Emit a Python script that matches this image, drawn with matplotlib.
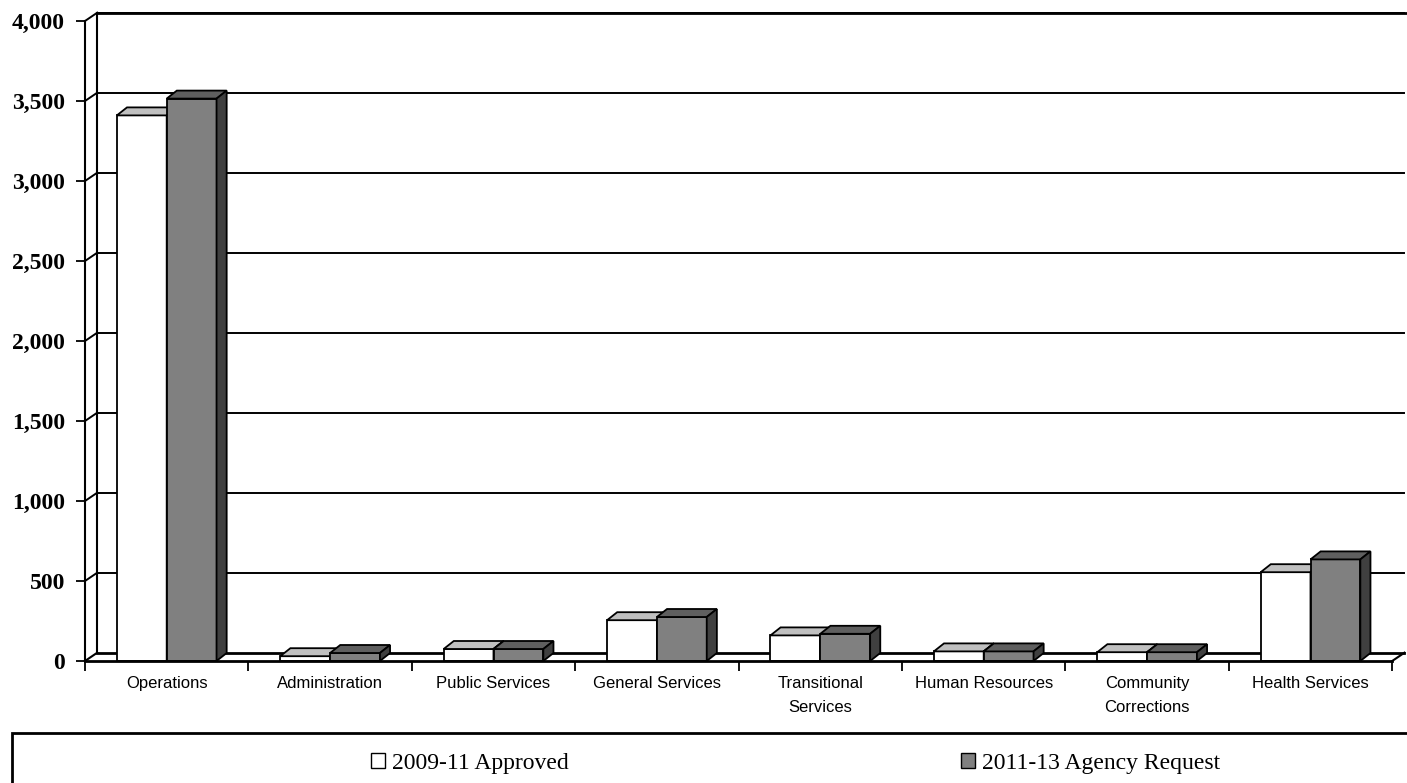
import matplotlib
matplotlib.use("Agg")
import matplotlib.pyplot as plt
from matplotlib.patches import Polygon, Rectangle, Patch

categories = ["Operations", "Administration", "Public Services", "General Services",
              "Transitional\nServices", "Human Resources", "Community\nCorrections",
              "Health Services"]
approved_0911 = [3410, 30, 75, 255, 160, 60, 55, 555]
request_1113 = [3515, 50, 75, 275, 170, 60, 55, 635]
series_names = ["2009-11 Approved", "2011-13 Agency Request"]
y_ticks = list(range(0, 4001, 500))

# face colours: front, top, side
face_colors = [("#ffffff", "#c0c0c0", "#a0a0a0"),
               ("#808080", "#5f5f5f", "#404040")]

BAR_W = 0.305       # width of one bar, in category units
BAR_DX = 0.062      # bar depth, horizontal (category units)
BAR_DY = 50         # bar depth, vertical (value units)
WALL_DX = 0.075     # depth of the floor / walls
WALL_DY = 52

fig = plt.figure(figsize=(14.07, 7.83), dpi=100)
ax = fig.add_axes([85 / 1407, 122 / 783, 1322 / 1407, 650 / 783])
n = len(categories)
ax.set_xlim(0, 1322 / 163.4)
ax.set_ylim(0, 650 / 0.16)

# back wall, left wall and floor
lw_grid = 1.4
for v in y_ticks[1:]:
    ax.plot([WALL_DX, n + WALL_DX], [v + WALL_DY, v + WALL_DY], color="black",
            lw=lw_grid, clip_on=False, zorder=1)
    ax.plot([0, WALL_DX], [v, v + WALL_DY], color="black", lw=lw_grid,
            clip_on=False, zorder=1)
top = y_ticks[-1] + WALL_DY
ax.plot([WALL_DX, n + WALL_DX + 0.2], [top, top], color="black", lw=2,
        clip_on=False, zorder=1)
ax.plot([WALL_DX, WALL_DX], [WALL_DY, top], color="black", lw=1.5,
        clip_on=False, zorder=1)
ax.plot([WALL_DX, n + WALL_DX], [WALL_DY, WALL_DY], color="black", lw=2,
        clip_on=False, zorder=1)
ax.plot([0, WALL_DX], [0, WALL_DY], color="black", lw=1.5, clip_on=False, zorder=1)
ax.plot([n, n + WALL_DX], [0, WALL_DY], color="black", lw=1.5, clip_on=False, zorder=1)

# 3-D style columns: front face from ax.bar, then top and side faces
centers = [i + 0.5 for i in range(n)]
for s, values in enumerate([approved_0911, request_1113]):
    front, top_c, side_c = face_colors[s]
    lefts = [c - BAR_W + s * BAR_W for c in centers]
    ax.bar(lefts, values, width=BAR_W, align="edge", color=front,
           edgecolor="black", linewidth=1.3, zorder=3 + 2 * s)
    for x0, v in zip(lefts, values):
        x1 = x0 + BAR_W
        ax.add_patch(Polygon([(x0, v), (x1, v), (x1 + BAR_DX, v + BAR_DY),
                              (x0 + BAR_DX, v + BAR_DY)], closed=True,
                             facecolor=top_c, edgecolor="black", lw=1.3,
                             zorder=3 + 2 * s))
        ax.add_patch(Polygon([(x1, 0), (x1 + BAR_DX, BAR_DY),
                              (x1 + BAR_DX, v + BAR_DY), (x1, v)], closed=True,
                             facecolor=side_c, edgecolor="black", lw=1.3,
                             zorder=3 + 2 * s))

# front floor edge drawn over the bar bottoms
for sp in ["top", "right"]:
    ax.spines[sp].set_visible(False)
ax.spines["left"].set_bounds(0, y_ticks[-1])
ax.spines["bottom"].set_bounds(0, n)
ax.spines["left"].set_linewidth(1.5)
ax.spines["bottom"].set_linewidth(2)
ax.spines["bottom"].set_zorder(10)

ax.set_yticks(y_ticks)
ax.set_yticklabels([f"{v:,}" for v in y_ticks], fontfamily="Liberation Serif",
                   fontweight="bold", fontsize=17)
ax.tick_params(axis="y", direction="out", length=6.5, width=1.3, pad=8)

ax.set_xticks(range(n + 1))
ax.set_xticklabels([])
ax.tick_params(axis="x", which="major", direction="out", length=7, width=1.3)
ax.set_xticks(centers, minor=True)
ax.set_xticklabels(categories, minor=True, fontfamily="Liberation Sans",
                   fontsize=12, linespacing=1.7)
ax.tick_params(axis="x", which="minor", length=0, pad=11)

# legend box runs off the lower right edge
fig.patches.append(Rectangle((12 / 1407, -0.05), 1.05, (783 - 733) / 783 + 0.05,
                             transform=fig.transFigure, facecolor="none",
                             edgecolor="black", lw=2))
handles = [Patch(facecolor=face_colors[i][0], edgecolor="black", lw=1)
           for i in range(2)]
fig.legend(handles, series_names, loc="center left",
           bbox_to_anchor=(350 / 1407, 20 / 783), ncol=2, frameon=False,
           prop={"family": "Liberation Serif", "size": 17},
           handlelength=0.6, handleheight=0.6, handletextpad=0.3,
           columnspacing=16.6)

fig.savefig("out.png", dpi=100)
